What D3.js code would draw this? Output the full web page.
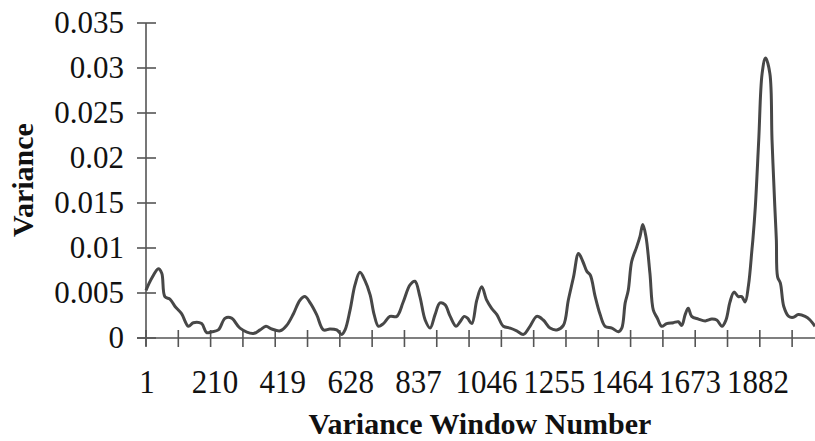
<!DOCTYPE html>
<html>
<head>
<meta charset="utf-8">
<script src="https://cdn.jsdelivr.net/npm/d3@7"></script>
<style>
  html, body { margin: 0; padding: 0; background: #fff; }
  svg { display: block; }
  text { font-family: "Liberation Serif", "Times New Roman", serif; fill: #111; }
</style>
</head>
<body>
<svg id="chart" width="815" height="441"></svg>
<script>
// Variance per sliding window
const windowNumber = [1, 19, 41, 52, 62, 79, 95, 116, 138, 154, 181, 197, 214, 235, 257, 278, 305, 348, 370, 389,
  408, 435, 456, 478, 499, 515, 532, 553, 575, 596, 618, 634, 645, 661, 677, 693, 709, 726, 739, 753,
  769, 790, 812, 833, 855, 871, 887, 904, 920, 936, 952, 968, 985, 1004, 1017, 1030, 1041, 1055, 1071, 1087,
  1103, 1119, 1136, 1157, 1179, 1200, 1222, 1243, 1265, 1286, 1308, 1330, 1351, 1367, 1384, 1400, 1414, 1427, 1438, 1454,
  1470, 1486, 1508, 1529, 1540, 1551, 1561, 1572, 1588, 1599, 1608, 1618, 1631, 1642, 1655, 1669, 1685, 1707, 1723, 1734,
  1745, 1755, 1766, 1788, 1810, 1831, 1847, 1864, 1877, 1890, 1903, 1917, 1928, 1939, 1950, 1961, 1964, 1972, 1983, 1994,
  2005, 2019, 2026, 2035, 2040, 2044, 2053, 2064, 2080, 2095, 2111, 2133, 2149, 2165];
const variance = [0.0053, 0.0066, 0.0077, 0.0072, 0.0046, 0.0043, 0.0035, 0.0027, 0.0013, 0.0017, 0.0016, 0.0006, 0.0007, 0.0009, 0.0022, 0.0022, 0.0011, 0.0005, 0.0009, 0.0013,
  0.0010, 0.0008, 0.0014, 0.0027, 0.0042, 0.0046, 0.0039, 0.0026, 0.0009, 0.0010, 0.0009, 0.0004, 0.0009, 0.0031, 0.0059, 0.0073, 0.0064, 0.0048, 0.0026, 0.0013,
  0.0016, 0.0024, 0.0024, 0.0040, 0.0059, 0.0063, 0.0046, 0.0020, 0.0011, 0.0026, 0.0039, 0.0037, 0.0024, 0.0013, 0.0018, 0.0024, 0.0022, 0.0016, 0.0042, 0.0057,
  0.0042, 0.0033, 0.0026, 0.0013, 0.0011, 0.0008, 0.0004, 0.0013, 0.0024, 0.0020, 0.0011, 0.0009, 0.0014, 0.0042, 0.0068, 0.0094, 0.0085, 0.0074, 0.0070, 0.0046,
  0.0026, 0.0013, 0.0011, 0.0007, 0.0011, 0.0039, 0.0053, 0.0085, 0.0101, 0.0113, 0.0126, 0.0113, 0.0072, 0.0031, 0.0022, 0.0013, 0.0016, 0.0017, 0.0018, 0.0014,
  0.0026, 0.0033, 0.0024, 0.0021, 0.0019, 0.0021, 0.0020, 0.0013, 0.0020, 0.0040, 0.0051, 0.0046, 0.0046, 0.0040, 0.0059, 0.0098, 0.0109, 0.0146, 0.0220, 0.0294,
  0.0311, 0.0294, 0.0220, 0.0146, 0.0109, 0.0068, 0.0061, 0.0035, 0.0024, 0.0023, 0.0026, 0.0024, 0.0020, 0.0013];

const xTickLabels = ["1", "210", "419", "628", "837", "1046", "1255", "1464", "1673", "1882"];
const xTickMarks = [1, 105.5, 210, 314.5, 419, 523.5, 628, 732.5, 837, 941.5, 1046, 1150.5, 1255, 1359.5,
  1464, 1568.5, 1673, 1777.5, 1882, 1986.5, 2091];
const yTicks = [0, 0.005, 0.01, 0.015, 0.02, 0.025, 0.03, 0.035];
const yTickLabels = ["0", "0.005", "0.01", "0.015", "0.02", "0.025", "0.03", "0.035"];

const svg = d3.select("#chart");
const axisColor = "#555";

const x = d3.scaleLinear().domain([1, 2165]).range([146, 815]);
const y = d3.scaleLinear().domain([0, 0.035]).range([338, 23]);
const xLabel = d3.scalePoint().domain(xTickLabels).range([147, 758]);

// y axis: line with ticks crossing it
svg.append("line")
  .attr("x1", x(1)).attr("x2", x(1))
  .attr("y1", y(0.035)).attr("y2", y(0) + 8)
  .attr("stroke", axisColor).attr("stroke-width", 1.6);
svg.selectAll(".ytick").data(yTicks).join("line")
  .attr("x1", x(1) - 9).attr("x2", x(1) + 10)
  .attr("y1", d => y(d)).attr("y2", d => y(d))
  .attr("stroke", axisColor).attr("stroke-width", 1.6);
svg.selectAll(".ylab").data(yTicks).join("text")
  .attr("x", 124).attr("y", d => y(d) + 10)
  .attr("text-anchor", "end")
  .attr("font-size", 31)
  .text((d, i) => yTickLabels[i]);

// x axis
svg.append("line")
  .attr("x1", x(1) - 9).attr("x2", 815)
  .attr("y1", y(0)).attr("y2", y(0))
  .attr("stroke", axisColor).attr("stroke-width", 1.6);
svg.selectAll(".xtick").data(xTickMarks).join("line")
  .attr("x1", d => x(d)).attr("x2", d => x(d))
  .attr("y1", y(0) - 8).attr("y2", y(0) + 9)
  .attr("stroke", axisColor).attr("stroke-width", 1.6);
svg.selectAll(".xlab").data(xTickLabels).join("text")
  .attr("transform", d => `translate(${xLabel(d)},393) scale(1,1.1)`)
  .attr("text-anchor", "middle")
  .attr("font-size", 31)
  .text(d => d);

// axis titles
svg.append("text")
  .attr("transform", "translate(33,180) rotate(-90)")
  .attr("text-anchor", "middle")
  .attr("font-size", 30).attr("font-weight", "bold")
  .text("Variance");
svg.append("text")
  .attr("x", 480).attr("y", 434)
  .attr("text-anchor", "middle")
  .attr("font-size", 30).attr("font-weight", "bold")
  .text("Variance Window Number");

// variance curve
const pts = windowNumber.map((w, i) => [w, variance[i]]);
const line = d3.line()
  .x(d => x(d[0])).y(d => y(d[1]))
  .curve(d3.curveCatmullRom.alpha(0.5));
svg.append("path")
  .datum(pts)
  .attr("d", line)
  .attr("fill", "none")
  .attr("stroke", "#474747")
  .attr("stroke-width", 3)
  .attr("stroke-linejoin", "round");
</script>
</body>
</html>
